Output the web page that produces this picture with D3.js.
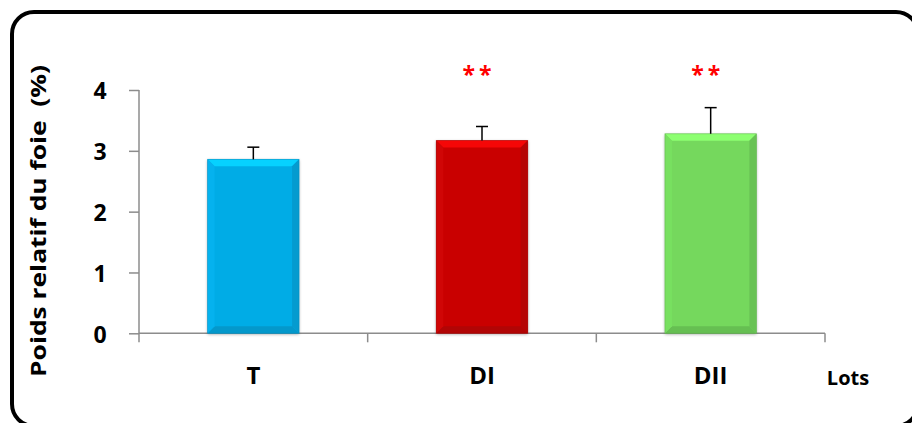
<!DOCTYPE html>
<html>
<head>
<meta charset="utf-8">
<script src="https://cdn.jsdelivr.net/npm/d3@7"></script>
<style>
  html, body { margin: 0; padding: 0; background: #fff; }
  svg { display: block; }
  text { font-family: "Open Sans", "Noto Sans", sans-serif; font-weight: 700; white-space: pre; }
</style>
</head>
<body>
<div id="chart"></div>
<script>
// Relative liver weight per group (mean and standard deviation, %)
const categories = ["T", "DI", "DII"];
const means = [2.86, 3.17, 3.28];
const sds = [0.20, 0.23, 0.43];
const significance = ["", "**", "**"];
const barColors = ["#05ACE6", "#C90606", "#74D85D"];
const yTicks = [0, 1, 2, 3, 4];
const yTitle = "Poids relatif du foie  (%)";
const xTitle = "Lots";

const W = 912, H = 423;
const plot = { left: 139, right: 825, top: 90, bottom: 333.3 };

const svg = d3.select("#chart").append("svg")
  .attr("width", W).attr("height", H);

const defs = svg.append("defs");
const shadow = defs.append("filter").attr("id", "barShadow")
  .attr("x", "-10%").attr("y", "-10%").attr("width", "120%").attr("height", "120%");
shadow.append("feDropShadow")
  .attr("dx", 0).attr("dy", 1).attr("stdDeviation", 1.6)
  .attr("flood-color", "#000").attr("flood-opacity", 0.35);

// Rounded frame
svg.append("rect")
  .attr("x", 12).attr("y", 12)
  .attr("width", 906).attr("height", 414)
  .attr("rx", 22).attr("ry", 22)
  .attr("fill", "none").attr("stroke", "#000").attr("stroke-width", 4);

const x = d3.scaleBand().domain(categories)
  .range([plot.left, plot.right]).paddingInner(0).paddingOuter(0);
const y = d3.scaleLinear().domain([0, 4]).range([plot.bottom, plot.top]);

const axisColor = "#8c8c8c";

// Y axis
const yAxis = svg.append("g")
  .attr("transform", `translate(${plot.left},0)`)
  .call(d3.axisLeft(y).tickValues(yTicks).tickFormat(d3.format("d")).tickSize(10).tickPadding(29));
yAxis.select(".domain").attr("stroke", axisColor).attr("stroke-width", 1.5).attr("d", `M0,${plot.top}V${plot.bottom}`);
yAxis.selectAll(".tick line").attr("stroke", axisColor).attr("stroke-width", 1.5);
yAxis.selectAll(".tick text")
  .attr("fill", "#000").attr("font-size", 23).attr("font-weight", 700)
  .attr("font-family", "'Open Sans', sans-serif")
  .attr("text-anchor", "middle").attr("dy", "0.38em");

// X axis: ticks at category boundaries
const xg = svg.append("g");
xg.append("line")
  .attr("x1", plot.left).attr("x2", plot.right)
  .attr("y1", y(0)).attr("y2", y(0))
  .attr("stroke", axisColor).attr("stroke-width", 1.5);
const boundaries = categories.map(c => x(c)).concat([x(categories[categories.length - 1]) + x.bandwidth()]);
xg.selectAll("line.tk").data(boundaries).join("line")
  .attr("class", "tk")
  .attr("x1", d => d).attr("x2", d => d)
  .attr("y1", y(0)).attr("y2", y(0) + 9)
  .attr("stroke", axisColor).attr("stroke-width", 1.5);

xg.selectAll("text.cat").data(categories).join("text")
  .attr("class", "cat")
  .attr("x", d => x(d) + x.bandwidth() / 2)
  .attr("y", 384)
  .attr("text-anchor", "middle")
  .attr("font-size", 24)
  .attr("fill", "#000")
  .text(d => d);

svg.append("text")
  .attr("x", 848).attr("y", 385)
  .attr("text-anchor", "middle")
  .attr("font-size", 20)
  .attr("fill", "#000")
  .text(xTitle);

// Y title
svg.append("text")
  .attr("transform", `translate(46,221) rotate(-90)`)
  .attr("text-anchor", "middle")
  .attr("font-size", 22)
  .attr("textLength", 312)
  .attr("lengthAdjust", "spacingAndGlyphs")
  .attr("fill", "#000")
  .text(yTitle);

// Bars with bevelled edges
const barW = x.bandwidth() * 0.40;
const bev = 7;
const data = categories.map((c, i) => ({ c, m: means[i], sd: sds[i], color: barColors[i], sig: significance[i] }));

const bars = svg.append("g").selectAll("g.bar").data(data).join("g").attr("class", "bar");

bars.each(function (d) {
  const g = d3.select(this);
  const cx = x(d.c) + x.bandwidth() / 2;
  const x0 = cx - barW / 2, x1 = cx + barW / 2;
  const y0 = y(d.m), y1 = y(0);
  const base = d3.color(d.color);
  g.append("rect")
    .attr("x", x0).attr("y", y0).attr("width", x1 - x0).attr("height", y1 - y0)
    .attr("fill", base).attr("filter", "url(#barShadow)");
  const poly = (pts, fill) => g.append("polygon")
    .attr("points", pts.map(p => p.join(",")).join(" "))
    .attr("fill", fill);
  poly([[x0, y0], [x1, y0], [x1 - bev, y0 + bev], [x0 + bev, y0 + bev]], base.brighter(0.55));
  poly([[x0, y1], [x1, y1], [x1 - bev, y1 - bev], [x0 + bev, y1 - bev]], base.darker(0.35));
  poly([[x0, y0], [x0 + bev, y0 + bev], [x0 + bev, y1 - bev], [x0, y1]], base.brighter(0.1));
  poly([[x1, y0], [x1 - bev, y0 + bev], [x1 - bev, y1 - bev], [x1, y1]], base.darker(0.3));
  g.append("rect")
    .attr("x", x0).attr("y", y0).attr("width", x1 - x0).attr("height", y1 - y0)
    .attr("fill", "none").attr("stroke", base.darker(0.6)).attr("stroke-width", 0.8).attr("stroke-opacity", 0.6);

  // upper error bar
  g.append("line")
    .attr("x1", cx).attr("x2", cx)
    .attr("y1", y0).attr("y2", y(d.m + d.sd))
    .attr("stroke", "#000").attr("stroke-width", 1.5);
  g.append("line")
    .attr("x1", cx - 6).attr("x2", cx + 6)
    .attr("y1", y(d.m + d.sd)).attr("y2", y(d.m + d.sd))
    .attr("stroke", "#000").attr("stroke-width", 1.5);

  if (d.sig) {
    g.append("text")
      .attr("x", cx - 5).attr("y", 83)
      .attr("text-anchor", "middle")
      .attr("font-size", 23)
      .attr("letter-spacing", 4)
      .attr("dx", 2)
      .attr("fill", "#ff0000")
      .text(d.sig);
  }
});
</script>
</body>
</html>
